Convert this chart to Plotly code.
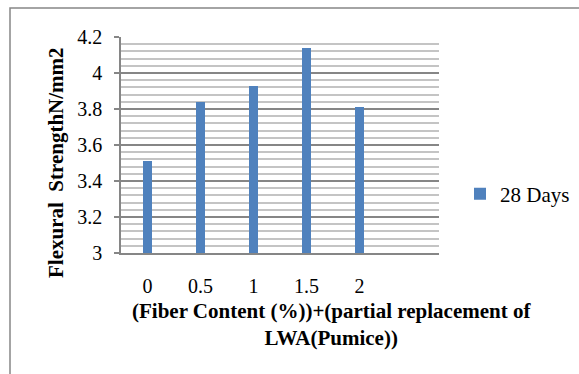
import plotly.graph_objects as go

# Flexural strength at 28 days vs. fibre content
fiber_content = ["0", "0.5", "1", "1.5", "2"]
strength_28d = [3.51, 3.84, 3.93, 4.14, 3.81]
series_name = "28 Days"

y_title = "Flexural&nbsp; StrengthN/mm2"
x_title = "(Fiber Content (%))+(partial replacement of<br>LWA(Pumice))"

W, H = 579, 374
L, R, T, B = 121, 140, 37, 121
pw, ph = W - L - R, H - T - B


def px(x):
    return (x - L) / pw


def py(y):
    return (H - B - y) / ph


BAR = "#4F81BD"
AXIS = "#868686"
FONT = "Liberation Serif"

positions = list(range(len(fiber_content)))

fig = go.Figure()
fig.add_trace(go.Bar(
    x=positions, y=strength_28d, name=series_name,
    marker=dict(color=BAR, line=dict(width=0)),
    width=0.17, showlegend=True,
))

fig.update_layout(
    width=W, height=H,
    margin=dict(l=L, r=R, t=T, b=B, pad=0, autoexpand=False),
    paper_bgcolor="white", plot_bgcolor="white",
    font=dict(family=FONT, size=20, color="black"),
    bargap=0,
    legend=dict(
        x=px(460), y=py(194), xanchor="left", yanchor="middle",
        font=dict(family=FONT, size=21), bgcolor="rgba(0,0,0,0)",
        itemwidth=30, tracegroupgap=0,
    ),
    showlegend=True,
)

fig.update_xaxes(
    range=[-0.5, 5.5], tickvals=positions, ticktext=fiber_content,
    showgrid=False, zeroline=False,
    showline=True, linecolor=AXIS, linewidth=1.5,
    ticks="outside", ticklen=14, tickcolor="rgba(0,0,0,0)",
    tickfont=dict(family=FONT, size=20),
)
fig.update_yaxes(
    range=[3, 4.2], dtick=0.2, tick0=3,
    showgrid=True, gridcolor=AXIS, gridwidth=1.5,
    zeroline=False,
    showline=True, linecolor=AXIS, linewidth=1.5,
    ticks="outside", ticklen=5, tickcolor=AXIS, tickwidth=1.5,
    ticklabelstandoff=8,
    tickfont=dict(family=FONT, size=20),
    minor=dict(dtick=0.04, tick0=3, showgrid=True, gridcolor="#c4c4c4", gridwidth=1.5, ticks=""),
)

# axis titles
fig.add_annotation(
    text=y_title, textangle=-90, xref="paper", yref="paper",
    x=px(56), y=py(163), xanchor="center", yanchor="middle",
    showarrow=False, font=dict(family=FONT, size=21, color="black", weight="bold"),
)
fig.add_annotation(
    text=x_title, xref="paper", yref="paper",
    x=px(331), y=py(324), xanchor="center", yanchor="middle",
    showarrow=False, align="center",
    font=dict(family=FONT, size=21, color="black", weight="bold"),
)

# chart-area border
fig.add_shape(
    type="rect", xref="paper", yref="paper",
    x0=px(10), y0=py(380), x1=px(590), y1=py(8),
    line=dict(color=AXIS, width=1.5), fillcolor="rgba(0,0,0,0)", layer="below",
)

fig.write_html("out.html")
